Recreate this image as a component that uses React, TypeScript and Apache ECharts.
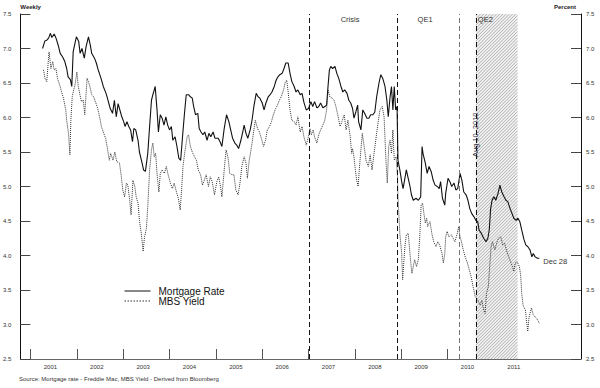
import React, { useEffect, useRef } from "react";
import * as echarts from "echarts";

const mortgageDates = [
  2001.26, 2001.31, 2001.35, 2001.39, 2001.43, 2001.46, 2001.51, 2001.55, 2001.6, 2001.64, 2001.69, 2001.74, 2001.78, 2001.81, 2001.86, 2001.89, 2001.92, 2001.96, 2001.99,
  2002.04, 2002.07, 2002.11, 2002.16, 2002.2, 2002.25, 2002.29, 2002.32, 2002.38, 2002.42, 2002.46, 2002.52, 2002.57, 2002.63, 2002.68, 2002.72, 2002.77, 2002.81, 2002.85, 2002.89, 2002.94, 2002.97,
  2003.01, 2003.04, 2003.08, 2003.12, 2003.16, 2003.2, 2003.23, 2003.27, 2003.32, 2003.35, 2003.4, 2003.44, 2003.48, 2003.53, 2003.57, 2003.61, 2003.64, 2003.67, 2003.69, 2003.73, 2003.76, 2003.8, 2003.84, 2003.88, 2003.92, 2003.96,
  2004.0, 2004.04, 2004.07, 2004.12, 2004.16, 2004.2, 2004.24, 2004.28, 2004.32, 2004.36, 2004.41, 2004.45, 2004.49, 2004.52, 2004.56, 2004.61, 2004.64, 2004.68, 2004.72, 2004.76, 2004.81, 2004.85, 2004.89, 2004.94, 2004.98,
  2005.05, 2005.09, 2005.13, 2005.18, 2005.23, 2005.28, 2005.32, 2005.36, 2005.41, 2005.45, 2005.49, 2005.54, 2005.58, 2005.61, 2005.65, 2005.69, 2005.74, 2005.78, 2005.82, 2005.87, 2005.91, 2005.95,
  2006.0, 2006.04, 2006.08, 2006.13, 2006.17, 2006.21, 2006.26, 2006.3, 2006.34, 2006.38, 2006.43, 2006.47, 2006.51, 2006.56, 2006.6, 2006.64, 2006.69, 2006.73, 2006.77, 2006.82, 2006.86, 2006.9, 2006.95,
  2007.0, 2007.05, 2007.09, 2007.13, 2007.18, 2007.22, 2007.26, 2007.31, 2007.35, 2007.39, 2007.42, 2007.45, 2007.48, 2007.52, 2007.57, 2007.61, 2007.65, 2007.7, 2007.74, 2007.78, 2007.83, 2007.87, 2007.91, 2007.95, 2007.98,
  2008.02, 2008.06, 2008.08, 2008.13, 2008.17, 2008.21, 2008.26, 2008.3, 2008.34, 2008.39, 2008.43, 2008.47, 2008.52, 2008.56, 2008.6, 2008.65, 2008.69, 2008.72, 2008.76, 2008.79, 2008.82, 2008.85, 2008.88, 2008.91, 2008.93, 2008.97,
  2009.01, 2009.04, 2009.08, 2009.11, 2009.15, 2009.19, 2009.22, 2009.26, 2009.32, 2009.37, 2009.42, 2009.45, 2009.47, 2009.52, 2009.56, 2009.6, 2009.65, 2009.69, 2009.73, 2009.78, 2009.82, 2009.85, 2009.89, 2009.94, 2009.96,
  2010.01, 2010.05, 2010.09, 2010.14, 2010.18, 2010.22, 2010.27, 2010.31, 2010.35, 2010.4, 2010.44, 2010.48, 2010.52, 2010.57, 2010.61, 2010.65, 2010.68, 2010.73, 2010.78, 2010.83, 2010.87, 2010.9, 2010.93, 2010.96,
  2011.0, 2011.04, 2011.09, 2011.13, 2011.17, 2011.22, 2011.26, 2011.3, 2011.35, 2011.39, 2011.43, 2011.48, 2011.52, 2011.56, 2011.6, 2011.65, 2011.69, 2011.73, 2011.78, 2011.82, 2011.85, 2011.89, 2011.94, 2011.98,
];
const mortgageRates = [
  7.0, 7.11, 7.12, 7.15, 7.22, 7.16, 7.21, 7.15, 7.04, 6.93, 6.88, 6.81, 6.71, 6.59, 6.55, 6.45, 6.95, 7.08, 7.17,
  7.1, 6.93, 7.0, 6.86, 7.03, 7.17, 7.05, 6.93, 6.86, 6.79, 6.69, 6.57, 6.45, 6.35, 6.23, 6.13, 6.06, 6.25, 6.01, 6.2, 6.08, 6.01,
  5.94, 5.87, 5.94, 5.87, 5.82, 5.65, 5.84, 5.82, 5.67, 5.5, 5.36, 5.24, 5.22, 5.48, 5.87, 6.25, 6.33, 6.4, 6.45, 6.11, 5.79, 6.04, 5.99, 5.89, 6.01, 5.89,
  5.82, 5.87, 5.67, 5.72, 5.58, 5.41, 5.38, 5.72, 6.04, 6.33, 6.33, 6.3, 6.28, 6.16, 6.04, 6.06, 5.84, 5.79, 5.75, 5.79, 5.67, 5.77, 5.72, 5.79, 5.7,
  5.7, 5.65, 5.58, 5.84, 6.04, 5.94, 5.82, 5.7, 5.63, 5.6, 5.55, 5.67, 5.79, 5.89, 5.77, 5.7, 5.82, 5.96, 6.16, 6.35, 6.3, 6.28,
  6.21, 6.11, 6.21, 6.3, 6.33, 6.37, 6.45, 6.54, 6.59, 6.62, 6.64, 6.71, 6.79, 6.79, 6.64, 6.52, 6.45, 6.37, 6.4, 6.33, 6.35, 6.22, 6.11,
  6.13, 6.23, 6.16, 6.23, 6.14, 6.16, 6.21, 6.14, 6.16, 6.18, 6.45, 6.69, 6.74, 6.71, 6.74, 6.64, 6.57, 6.45, 6.37, 6.4, 6.35, 6.25, 6.21, 6.13, 5.99,
  6.08, 6.18, 5.94, 5.82, 6.11, 6.06, 5.99, 5.99, 6.04, 6.04, 6.08, 6.3, 6.5, 6.62, 6.57, 6.45, 6.25, 6.01, 6.3, 6.45, 6.11, 6.45, 6.11, 6.16, 5.38, 5.24,
  5.07, 4.97, 5.12, 5.24, 5.12, 5.0, 4.88, 4.8, 4.83, 4.8, 4.85, 5.58, 5.48, 5.34, 5.19, 5.29, 5.21, 5.09, 5.02, 5.0, 4.97, 5.07, 4.83, 4.73, 4.9,
  5.12, 5.07, 5.0, 5.05, 4.95, 4.97, 5.19, 5.09, 4.92, 4.88, 4.8, 4.68, 4.61, 4.56, 4.51, 4.49, 4.37, 4.32, 4.25, 4.2, 4.25, 4.37, 4.68, 4.8,
  4.85, 4.8, 4.9, 5.02, 4.92, 4.85, 4.8, 4.78, 4.68, 4.61, 4.54, 4.51, 4.54, 4.49, 4.37, 4.23, 4.15, 4.13, 4.08, 3.98, 4.03, 3.98, 3.96, 3.96,
];

const mbsDates = [
  2001.28, 2001.31, 2001.35, 2001.38, 2001.4, 2001.44, 2001.48, 2001.51, 2001.55, 2001.58, 2001.63, 2001.67, 2001.71, 2001.76, 2001.78, 2001.82, 2001.85, 2001.87, 2001.9, 2001.93, 2001.96,
  2002.0, 2002.03, 2002.06, 2002.1, 2002.14, 2002.17, 2002.22, 2002.25, 2002.28, 2002.32, 2002.36, 2002.41, 2002.45, 2002.49, 2002.53, 2002.58, 2002.62, 2002.66, 2002.7, 2002.73, 2002.78, 2002.82, 2002.86, 2002.92, 2002.96, 2002.99,
  2003.03, 2003.07, 2003.1, 2003.14, 2003.17, 2003.21, 2003.25, 2003.28, 2003.32, 2003.35, 2003.39, 2003.43, 2003.46, 2003.5, 2003.53, 2003.57, 2003.61, 2003.64, 2003.67, 2003.7, 2003.73, 2003.77, 2003.8, 2003.84, 2003.89, 2003.93, 2003.97,
  2004.02, 2004.06, 2004.1, 2004.15, 2004.19, 2004.23, 2004.26, 2004.29, 2004.33, 2004.38, 2004.41, 2004.45, 2004.49, 2004.54, 2004.58, 2004.62, 2004.67, 2004.71, 2004.75, 2004.79, 2004.84, 2004.88, 2004.92, 2004.97,
  2005.02, 2005.06, 2005.1, 2005.13, 2005.18, 2005.22, 2005.26, 2005.3, 2005.35, 2005.39, 2005.43, 2005.48, 2005.52, 2005.56, 2005.61, 2005.65, 2005.68, 2005.72, 2005.77, 2005.81, 2005.85, 2005.9, 2005.94, 2005.98,
  2006.03, 2006.07, 2006.11, 2006.16, 2006.2, 2006.24, 2006.29, 2006.33, 2006.37, 2006.41, 2006.46, 2006.5, 2006.53, 2006.56, 2006.6, 2006.64, 2006.69, 2006.73, 2006.77, 2006.82, 2006.86, 2006.9, 2006.95, 2006.99,
  2007.03, 2007.06, 2007.1, 2007.13, 2007.18, 2007.22, 2007.26, 2007.31, 2007.35, 2007.39, 2007.42, 2007.46, 2007.51, 2007.55, 2007.59, 2007.64, 2007.68, 2007.72, 2007.77, 2007.81, 2007.85, 2007.9, 2007.93, 2007.95, 2007.98,
  2008.01, 2008.04, 2008.07, 2008.1, 2008.13, 2008.16, 2008.2, 2008.24, 2008.29, 2008.33, 2008.37, 2008.41, 2008.46, 2008.5, 2008.54, 2008.59, 2008.63, 2008.67, 2008.7, 2008.73, 2008.76, 2008.79, 2008.82, 2008.85, 2008.89, 2008.92, 2008.93, 2008.97,
  2009.01, 2009.03, 2009.06, 2009.08, 2009.11, 2009.15, 2009.17, 2009.2, 2009.23, 2009.26, 2009.29, 2009.33, 2009.37, 2009.4, 2009.43, 2009.46, 2009.49, 2009.52, 2009.55, 2009.57, 2009.62, 2009.66, 2009.7, 2009.75, 2009.79, 2009.83, 2009.88, 2009.91, 2009.94, 2009.96, 2009.99,
  2010.03, 2010.08, 2010.12, 2010.16, 2010.21, 2010.24, 2010.27, 2010.29, 2010.34, 2010.38, 2010.42, 2010.47, 2010.51, 2010.55, 2010.6, 2010.65, 2010.7, 2010.74, 2010.78, 2010.81, 2010.84, 2010.88, 2010.91, 2010.94, 2010.97,
  2011.02, 2011.06, 2011.1, 2011.15, 2011.19, 2011.23, 2011.27, 2011.32, 2011.36, 2011.4, 2011.43, 2011.46, 2011.5, 2011.55, 2011.58, 2011.6, 2011.63, 2011.68, 2011.71, 2011.73, 2011.76, 2011.81, 2011.85, 2011.89, 2011.94, 2011.98,
];
const mbsYields = [
  6.69, 6.57, 6.52, 6.79, 6.95, 6.71, 6.81, 6.69, 6.71, 6.57, 6.47, 6.37, 6.28, 6.11, 5.96, 5.77, 5.46, 5.96, 6.3, 6.4, 6.47,
  6.66, 6.45, 6.35, 6.23, 6.25, 6.04, 6.57, 6.52, 6.45, 6.33, 6.3, 6.21, 6.13, 6.01, 5.87, 5.77, 5.7, 5.55, 5.38, 5.48, 5.38, 5.5, 5.36, 5.34, 5.14, 4.95,
  4.85, 5.05, 5.02, 4.8, 4.59, 5.09, 5.0, 4.85, 4.76, 4.51, 4.32, 4.06, 4.27, 4.39, 4.71, 5.24, 5.53, 5.63, 5.43, 5.48, 5.19, 4.92, 5.19, 5.24, 5.19, 5.29, 5.17,
  5.05, 4.97, 5.05, 4.92, 4.83, 4.66, 4.95, 5.29, 5.5, 5.72, 5.75, 5.58, 5.5, 5.43, 5.38, 5.24, 5.17, 5.02, 5.09, 5.17, 5.0, 5.14, 5.07, 4.88,
  5.07, 5.14, 5.0, 4.85, 5.24, 5.53, 5.43, 5.19, 5.17, 5.17, 4.95, 4.88, 5.05, 5.29, 5.43, 5.34, 5.12, 5.38, 5.58, 5.77, 5.96, 5.84, 5.79, 5.7,
  5.58, 5.67, 5.82, 5.87, 5.94, 6.04, 6.13, 6.18, 6.25, 6.3, 6.4, 6.52, 6.54, 6.37, 6.11, 5.96, 5.94, 5.89, 6.01, 5.79, 5.87, 5.72, 5.6, 5.7,
  5.84, 5.75, 5.82, 5.72, 5.63, 5.75, 5.82, 5.89, 5.96, 6.11, 6.4, 6.3, 6.28, 6.25, 6.16, 6.01, 5.87, 5.94, 6.04, 5.82, 5.96, 5.72, 5.48, 5.55, 5.43,
  5.24, 5.09, 5.0, 5.29, 5.53, 5.77, 5.58, 5.38, 5.29, 5.46, 5.24, 5.46, 5.72, 5.92, 6.11, 6.16, 6.01, 5.38, 5.05, 5.58, 5.67, 5.48, 5.82, 5.38, 5.43, 5.14, 4.85, 4.32,
  4.03, 3.65, 3.94, 4.13, 4.3, 4.32, 4.18, 3.94, 3.74, 3.84, 3.94, 3.84, 3.94, 4.27, 4.73, 4.76, 4.61, 4.47, 4.54, 4.42, 4.49, 4.32, 4.2, 4.13, 4.2, 4.15, 4.03, 3.89, 4.03, 4.27, 4.35,
  4.27, 4.3, 4.25, 4.2, 4.32, 4.42, 4.27, 4.23, 4.08, 3.98, 3.91, 3.79, 3.69, 3.55, 3.4, 3.36, 3.28, 3.35, 3.21, 3.16, 3.45, 3.55, 3.84, 4.13, 4.2,
  4.08, 4.18, 4.25, 4.27, 4.15, 4.18, 4.08, 3.98, 3.91, 3.84, 3.77, 3.89, 3.91, 3.84, 3.7, 3.45, 3.28, 3.21, 3.02, 2.9, 3.11, 3.24, 3.14, 3.11, 3.07, 3.02,
];

const yearTicks = [2001, 2002, 2003, 2004, 2005, 2006, 2007, 2008, 2009, 2010, 2011];
const yearLabelNames = ["2001", "2002", "2003", "2004", "2005", "2006", "2007", "2008", "2009", "2010", "2011"];

// Event dates (decimal years)
const crisisStart = 2007.01;
const qe1Start = 2008.91;
const qe1End = 2010.25;
const qe2Start = 2010.61; // Aug 10, 2010
const qe2End = 2011.51;
const lastLabel = "Dec 28";

const FONT = "'Liberation Sans', Arial, sans-serif";

export default function App() {
  const ref = useRef<HTMLDivElement>(null);
  useEffect(() => {
    if (!ref.current) return;
    const chart = echarts.init(ref.current, undefined, { renderer: "svg" });
    const mortgage = mortgageDates.map((d, i) => [d, mortgageRates[i]]);
    const mbs = mbsDates.map((d, i) => [d, mbsYields[i]]);
    const labelPositions = yearTicks.map((y) => y + 0.43);

    const yAxisCommon = {
      type: "value",
      min: 2.5,
      max: 7.5,
      interval: 0.5,
      splitLine: { show: false },
      axisLine: { show: true, lineStyle: { color: "#111", width: 1 } },
      axisTick: { show: true, inside: true, length: 10, lineStyle: { color: "#444" } },
    };

    chart.setOption({
      animation: false,
      backgroundColor: "#fff",
      textStyle: { fontFamily: FONT },
      title: {
        text: "Source: Mortgage rate - Freddie Mac, MBS Yield - Derived from Bloomberg",
        left: 19,
        top: 376,
        padding: 0,
        textStyle: { fontSize: 6, fontWeight: "normal", color: "#333", fontFamily: FONT },
      },
      legend: {
        data: [
          { name: "Mortgage Rate", lineStyle: { width: 1, type: "solid" } },
          { name: "MBS Yield", lineStyle: { width: 1, type: [1.5, 1.5] } },
        ],
        orient: "vertical",
        left: 124,
        top: 286,
        padding: 0,
        itemWidth: 26,
        itemHeight: 9,
        itemGap: 0,
        itemStyle: { opacity: 0 },
        textStyle: { fontSize: 10, color: "#111", padding: [0, 0, 0, 3], fontFamily: FONT },
      },
      grid: { left: 20, right: 19, top: 14, bottom: 29 },
      xAxis: {
        type: "value",
        min: 2000.78,
        max: 2012.88,
        splitLine: { show: false },
        axisLine: { show: true, lineStyle: { color: "#666", width: 1 } },
        axisTick: { show: true, inside: true, length: 10, customValues: yearTicks, lineStyle: { color: "#555" } },
        axisLabel: {
          customValues: labelPositions,
          formatter: (v: number) => yearLabelNames[yearTicks.indexOf(Math.floor(v + 1e-6))] ?? "",
          fontSize: 6,
          color: "#333",
          margin: 5,
          fontFamily: FONT,
        },
      },
      yAxis: [
        {
          ...yAxisCommon,
          position: "left",
          name: "Weekly",
          nameLocation: "end",
          nameGap: 4,
          nameTextStyle: { align: "left", fontSize: 6, fontWeight: "bold", color: "#222", fontFamily: FONT },
          axisLabel: { fontSize: 6, color: "#333", margin: 9, formatter: (v: number) => v.toFixed(1), fontFamily: FONT },
        },
        {
          ...yAxisCommon,
          position: "right",
          name: "Percent",
          nameLocation: "end",
          nameGap: 4,
          nameTextStyle: { align: "right", fontSize: 6, fontWeight: "bold", color: "#222", padding: [0, 5, 0, 0], fontFamily: FONT },
          axisLabel: { fontSize: 6, color: "#333", margin: 5, formatter: (v: number) => v.toFixed(1), fontFamily: FONT },
        },
      ],
      series: [
        {
          name: "QE2 period",
          type: "custom",
          silent: true,
          z: 1,
          clip: false,
          encode: { x: 0, y: 1 },
          data: [[qe2Start, 5, qe2End]],
          renderItem: (params: any, api: any) => {
            const cs = params.coordSys;
            const L = api.coord([api.value(0), api.value(1)])[0];
            const R = api.coord([api.value(2), api.value(1)])[0];
            const T = cs.y;
            const B = cs.y + cs.height;
            const children: any[] = [
              { type: "rect", shape: { x: L, y: T, width: R - L, height: B - T }, style: { fill: "#f0f0f0" } },
            ];
            const step = 3.2;
            for (let c = L + T + step / 2; c < R + B; c += step) {
              const x1 = Math.max(L, c - B);
              const x2 = Math.min(R, c - T);
              if (x2 <= x1) continue;
              children.push({
                type: "line",
                shape: { x1, y1: c - x1, x2, y2: c - x2 },
                style: { stroke: "#a4a4a4", lineWidth: 0.8 },
              });
            }
            return { type: "group", children };
          },
        },
        {
          name: "Mortgage Rate",
          type: "line",
          data: mortgage,
          symbol: "none",
          z: 4,
          lineStyle: { color: "#111", width: 1.1, type: "solid" },
          itemStyle: { color: "#111" },
          endLabel: { show: true, formatter: lastLabel, fontSize: 7.5, color: "#333", distance: 4, offset: [0, 3], fontFamily: FONT },
          markLine: {
            silent: true,
            symbol: ["none", "none"],
            label: { show: false },
            data: [
              { xAxis: crisisStart, lineStyle: { color: "#111", type: [5, 3], width: 1 } },
              { xAxis: qe1Start, lineStyle: { color: "#111", type: [5, 3], width: 1 } },
              { xAxis: qe1End, lineStyle: { color: "#777", type: [5, 3], width: 1 } },
              { xAxis: qe2Start, lineStyle: { color: "#111", type: [5, 3], width: 1 } },
            ],
          },
          markPoint: {
            silent: true,
            symbol: "circle",
            symbolSize: 1,
            itemStyle: { color: "rgba(0,0,0,0)" },
            data: [
              {
                coord: [qe2Start, 5.8],
                label: {
                  show: true,
                  formatter: "Aug 10, 2010",
                  position: "inside",
                  rotate: 90,
                  offset: [-3.5, 0],
                  fontSize: 7.5,
                  color: "#334",
                  fontFamily: FONT,
                },
              },
            ],
          },
        },
        {
          name: "MBS Yield",
          type: "line",
          data: mbs,
          symbol: "none",
          z: 3,
          lineStyle: { color: "#333", width: 1, type: "dotted" },
          itemStyle: { color: "#333" },
          markArea: {
            silent: true,
            itemStyle: { color: "rgba(0,0,0,0)" },
            label: { show: true, position: "insideTop", distance: 1, fontSize: 7.5, color: "#333", fontFamily: FONT },
            data: [
              [{ name: "Crisis", xAxis: crisisStart, label: { offset: [-3, 0] } }, { xAxis: qe1Start }],
              [{ name: "QE1", xAxis: qe1Start, label: { offset: [-3, 0] } }, { xAxis: qe1End }],
              [{ name: "QE2", xAxis: qe2Start, label: { position: "insideTopLeft", distance: 1, offset: [1, 0] } }, { xAxis: qe2End }],
            ],
          },
        },
      ],
    });
    return () => chart.dispose();
  }, []);
  return <div ref={ref} style={{ position: "absolute", left: 0, top: 0, width: 600, height: 388 }} />;
}
